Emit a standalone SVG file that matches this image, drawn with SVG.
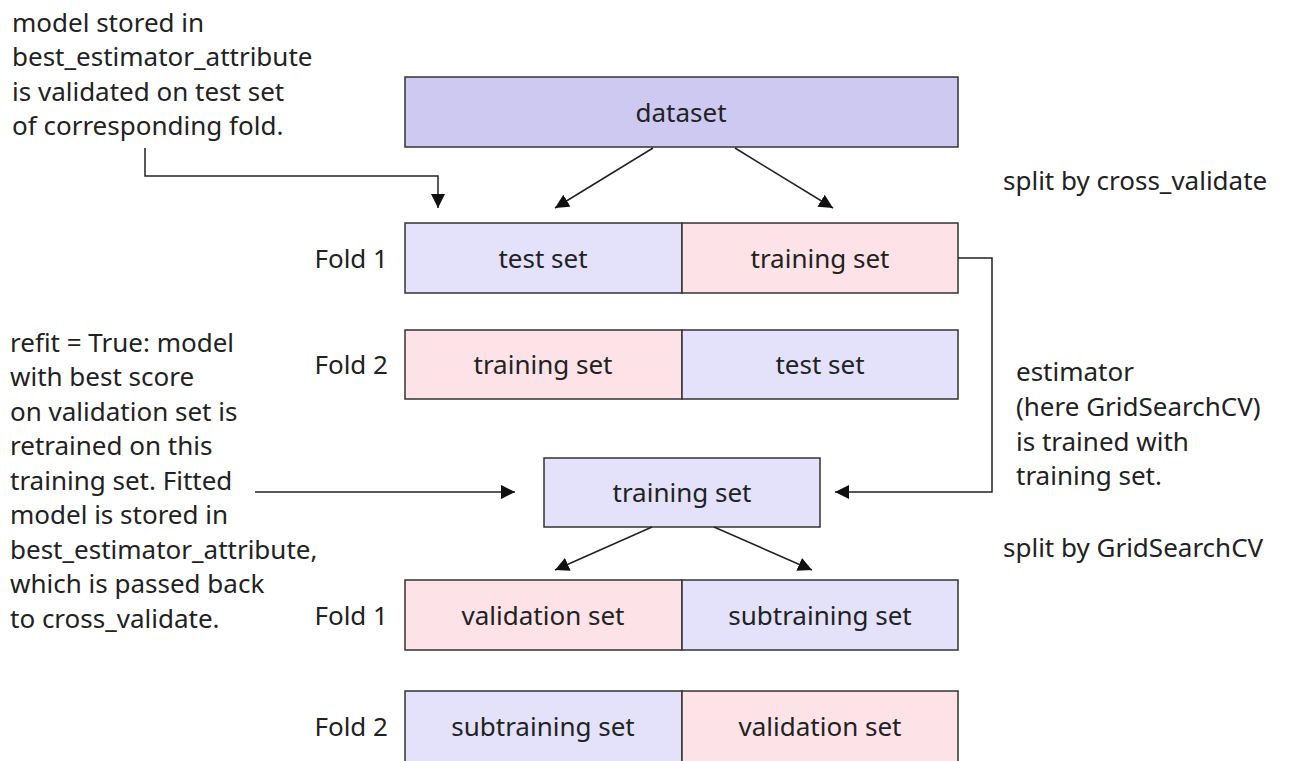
<svg xmlns="http://www.w3.org/2000/svg" width="1290" height="761" viewBox="0 0 1290 761">
<defs>
<marker id="ah" viewBox="0 0 10 10" refX="10" refY="5" markerWidth="14" markerHeight="14" markerUnits="userSpaceOnUse" orient="auto">
<path d="M0,0 L10,5 L0,10 z" fill="#111"/>
</marker>
<style>
text{font-family:"Noto Sans","Open Sans",sans-serif;font-size:26px;fill:#222}
.c{text-anchor:middle;dominant-baseline:central}
.f{text-anchor:end;dominant-baseline:central}
.box{stroke:#333;stroke-width:1.5}
.ds{fill:#cdc9f1}
.bl{fill:#e4e2fb}
.pk{fill:#fde3e7}
.ln{fill:none;stroke:#222;stroke-width:1.5}
</style>
</defs>
<rect width="1290" height="761" fill="#fff"/>
<g id="notes">
<text x="12" y="32">model stored in</text>
<text x="12" y="66">best_estimator_attribute</text>
<text x="12" y="101">is validated on test set</text>
<text x="12" y="135">of corresponding fold.</text>
<text x="1003" y="190">split by cross_validate</text>
<text x="1016" y="381">estimator</text>
<text x="1016" y="416">(here GridSearchCV)</text>
<text x="1016" y="451">is trained with</text>
<text x="1016" y="485">training set.</text>
<text x="1003" y="557">split by GridSearchCV</text>
<text x="10" y="352">refit = True: model</text>
<text x="10" y="386">with best score</text>
<text x="10" y="421">on validation set is</text>
<text x="10" y="455">retrained on this</text>
<text x="10" y="490">training set. Fitted</text>
<text x="10" y="524">model is stored in</text>
<text x="10" y="559">best_estimator_attribute,</text>
<text x="10" y="593">which is passed back</text>
<text x="10" y="628">to cross_validate.</text>
<text x="388" y="258" class="f">Fold 1</text>
<text x="388" y="364" class="f">Fold 2</text>
<text x="388" y="615" class="f">Fold 1</text>
<text x="388" y="726" class="f">Fold 2</text>
</g>
<g id="dataset">
<rect x="405" y="77" width="553" height="70" class="box ds"/>
<text x="681" y="112" class="c">dataset</text>
</g>
<g id="fold1">
<rect x="405" y="223" width="277" height="70" class="box bl"/>
<rect x="682" y="223" width="276" height="70" class="box pk"/>
<text x="543" y="258" class="c">test set</text>
<text x="820" y="258" class="c">training set</text>
</g>
<g id="fold2">
<rect x="405" y="330" width="277" height="69" class="box pk"/>
<rect x="682" y="330" width="276" height="69" class="box bl"/>
<text x="543" y="364" class="c">training set</text>
<text x="820" y="364" class="c">test set</text>
</g>
<g id="trainingset">
<rect x="544" y="458" width="276" height="69" class="box bl"/>
<text x="682" y="492" class="c">training set</text>
</g>
<g id="subfold1">
<rect x="405" y="580" width="277" height="70" class="box pk"/>
<rect x="682" y="580" width="276" height="70" class="box bl"/>
<text x="543" y="615" class="c">validation set</text>
<text x="820" y="615" class="c">subtraining set</text>
</g>
<g id="subfold2">
<rect x="405" y="691" width="277" height="80" class="box bl"/>
<rect x="682" y="691" width="276" height="80" class="box pk"/>
<text x="543" y="726" class="c">subtraining set</text>
<text x="820" y="726" class="c">validation set</text>
</g>
<g id="connectors">
<path d="M653,148 L555,208" class="ln" marker-end="url(#ah)"/>
<path d="M735,148 L833,208" class="ln" marker-end="url(#ah)"/>
<path d="M145,148 V176 H438 V208" class="ln" marker-end="url(#ah)"/>
<path d="M958,258 H992 V492 H835" class="ln" marker-end="url(#ah)"/>
<path d="M255,492 H515" class="ln" marker-end="url(#ah)"/>
<path d="M652,527 L555,570" class="ln" marker-end="url(#ah)"/>
<path d="M714,527 L812,570" class="ln" marker-end="url(#ah)"/>
</g>
</svg>
